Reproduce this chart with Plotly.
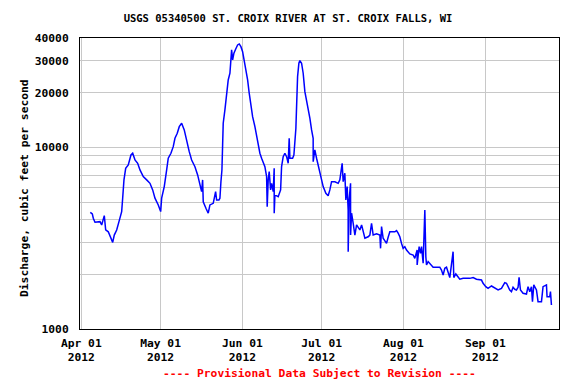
import pandas as pd
import plotly.graph_objects as go

# Time of each reading, in days after 2012-04-01 00:00
days_since_apr1 = [
    3.40, 4.16, 4.53, 5.18, 7.07, 7.71, 8.70, 9.23, 10.21, 10.86, 11.88, 12.48, 13.01, 13.39,
    14.26, 15.28, 15.66, 16.15, 16.80, 17.78, 18.80, 19.45, 20.32, 21.34, 22.21, 23.46, 24.75,
    26.00, 27.02, 27.89, 29.14, 30.05, 30.42, 31.41, 32.32, 32.92, 33.94, 34.81, 35.46, 36.33,
    37.09, 37.99, 38.98, 39.89, 40.87, 41.78, 43.03, 44.05, 44.92, 45.56, 45.94, 46.17, 47.19,
    48.06, 48.70, 49.95, 50.86, 51.24, 52.11, 52.49, 52.87, 53.25, 53.51, 53.74, 54.38, 55.03,
    55.63, 56.28, 56.65, 56.92, 57.30, 57.79, 58.43, 59.19, 59.80, 60.44, 61.08, 61.69, 62.33,
    62.98, 63.58, 64.22, 64.87, 65.74, 66.38, 66.99, 67.63, 68.27, 68.88, 69.52, 70.17, 70.39,
    70.77, 71.15, 71.68, 72.06, 72.67, 73.04, 73.05, 73.31, 74.56, 75.47, 75.84, 76.45, 77.09,
    77.74, 78.34, 78.72, 78.99, 80.01, 80.50, 80.88, 81.26, 81.52, 81.90, 82.39, 82.77, 83.41,
    84.02, 84.66, 85.31, 85.91, 86.55, 87.20, 87.80, 87.81, 88.43, 89.09, 89.69, 90.33, 90.98,
    91.59, 92.61, 93.48, 94.12, 94.77, 96.02, 97.27, 97.91, 98.78, 99.16, 99.80, 100.18, 100.67,
    101.05, 101.06, 101.43, 101.96, 101.97, 102.35, 102.96, 103.60, 104.24, 105.49, 106.14,
    106.74, 107.39, 108.62, 109.27, 109.91, 110.52, 111.81, 113.06, 113.32, 113.70, 114.30,
    115.59, 116.20, 116.84, 118.73, 119.37, 119.98, 120.62, 121.26, 121.87, 122.51, 123.16,
    124.41, 125.66, 126.30, 127.17, 127.18, 127.93, 128.46, 128.84, 129.45, 130.09, 130.47,
    130.73, 131.34, 131.98, 133.23, 135.76, 136.40, 137.01, 137.65, 138.30, 138.90, 139.54,
    140.79, 141.06, 141.82, 142.69, 143.33, 144.58, 147.12, 148.37, 149.65, 151.55, 152.15,
    153.17, 154.04, 155.33, 156.58, 157.83, 159.11, 159.72, 160.36, 161.01, 161.61, 162.25,
    162.90, 163.50, 164.15, 164.79, 165.40, 165.78, 166.31, 167.29, 168.58, 169.18, 169.83,
    170.47, 170.85, 171.34, 172.36, 172.97, 174.26, 174.86, 176.15, 176.38, 177.40, 177.67,
    178.04,
]

# Discharge, cubic feet per second
discharge_cfs = [
    4390, 4300, 4070, 3870, 3900, 3740, 4210, 3510, 3430, 3220, 3000, 3290, 3420, 3510,
    3900, 4430, 5250, 6620, 7670, 8000, 9080, 9280, 8520, 8170, 7510, 6900, 6620,
    6340, 5830, 5250, 4820, 4430, 5250, 6080, 7510, 8710, 9280, 10090, 11220, 11960,
    13000, 13570, 12470, 10750, 9470, 8520, 7830, 7050, 6210, 5700, 6620, 5020, 4620,
    4340, 4820, 4920, 5700, 5130, 5130, 5250, 6470, 7510, 10310, 13570, 16070, 19440,
    23500, 25590, 29050, 34390, 30290, 32980, 34690, 36640, 37100, 35850, 33650, 30290, 27270,
    23500, 19860, 17120, 14760, 13000, 11450, 10310, 9280, 8710, 8340, 7830, 6900, 4715,
    6620, 7350, 5830, 6340, 5700, 7670, 4340, 5470, 5350, 5830, 7830, 8890, 9280,
    8890, 8170, 11220, 8710, 8710, 9080, 10310, 12740, 16760, 24510, 29050, 30030, 29050,
    25590, 20260, 18240, 16070, 14470, 12470, 11220, 8340, 9680, 8710, 8000, 7350, 6620,
    6080, 5590, 5420, 5830, 6470, 6470, 6340, 6620, 8170, 6470, 7200, 5130, 6080,
    4520, 2665, 5130, 6340, 3290, 4340, 3820, 3290, 3740, 3510, 3740,
    3430, 3160, 3220, 3290, 3820, 3290, 3340, 3290, 2780, 3660, 3160,
    2960, 3200, 3430, 3430, 3480, 3370, 3220, 2960, 2780, 2840, 2720,
    2590, 2555, 2450, 2720, 2250, 2840, 2610, 2840, 2300, 4520, 2500,
    2250, 2350, 2300, 2190, 2190, 2110, 1980, 2160, 2190, 2070, 1920,
    2665, 1920, 2010, 1940, 1880, 1900, 1900, 1920, 1880, 1860, 1785,
    1710, 1675, 1725, 1675, 1640, 1675, 1750, 1800, 1785, 1710, 1640,
    1605, 1697, 1654, 1640, 1697, 1926, 1640, 1573, 1558, 1710, 1605,
    1710, 1414, 1750, 1640, 1414, 1414, 1710, 1750, 1506, 1506, 1605,
    1356,
]

month_ticks = ["2012-04-01", "2012-05-01", "2012-06-01", "2012-07-01", "2012-08-01", "2012-09-01"]
month_labels = ["Apr 01<br>2012", "May 01<br>2012", "Jun 01<br>2012",
                "Jul 01<br>2012", "Aug 01<br>2012", "Sep 01<br>2012"]
y_grid_vals = [1000, 2000, 3000, 4000, 5000, 6000, 7000, 8000, 9000,
               10000, 20000, 30000, 40000]
y_grid_text = ["1000", "", "", "", "", "", "", "", "",
               "10000", "20000", "30000", "40000"]

title_text = "USGS 05340500 ST. CROIX RIVER AT ST. CROIX FALLS, WI"
y_title = "Discharge, cubic feet per second"
footer_text = "---- Provisional Data Subject to Revision ----"

times = pd.Timestamp("2012-04-01") + pd.to_timedelta(days_since_apr1, unit="D")

FONT = "DejaVu Sans Mono"
W, H = 568, 376  # page body adds an 8px offset

fig = go.Figure()
fig.add_trace(go.Scatter(
    x=times, y=discharge_cfs, mode="lines",
    line=dict(color="#0000FF", width=1.5),
    showlegend=False, hoverinfo="skip",
))

fig.update_layout(
    width=W, height=H,
    margin=dict(l=72, r=17, t=30, b=55, autoexpand=False),
    paper_bgcolor="white", plot_bgcolor="white",
    title=dict(text="<b>" + title_text + "</b>", x=(288 - 8) / W, xref="container",
               xanchor="center",
               y=1 - 10 / H, yref="container", yanchor="middle",
               font=dict(family=FONT, size=10.5, color="black")),
    xaxis=dict(
        type="date",
        range=["2012-03-31 12:00", "2012-09-28 21:36"],
        tickvals=month_ticks,
        ticktext=["<b>" + t.replace("<br>", "</b><br><b>") + "</b>" for t in month_labels],
        tickfont=dict(family=FONT, size=11.3, color="black"),
        showgrid=True, gridcolor="#C8C8C8", gridwidth=1,
        showline=True, linecolor="black", linewidth=1, mirror=True,
        ticks="", ticklabelstandoff=3, zeroline=False,
    ),
    yaxis=dict(
        type="log",
        range=[3, 4.60206],
        tickvals=y_grid_vals, ticktext=["<b>" + t + "</b>" if t else "" for t in y_grid_text],
        tickfont=dict(family=FONT, size=11.3, color="black"),
        showgrid=True, gridcolor="#C8C8C8", gridwidth=1,
        showline=True, linecolor="black", linewidth=1, mirror=True,
        ticks="", ticklabelstandoff=8, zeroline=False,
    ),
    annotations=[
        dict(text="<b>" + y_title + "</b>", xref="paper", yref="paper",
             x=(25 - 80) / 479, y=(329 - 188) / 291, textangle=-90,
             showarrow=False, xanchor="center", yanchor="middle",
             font=dict(family=FONT, size=11.3, color="black")),
        dict(text="<b>" + footer_text + "</b>", xref="paper", yref="paper",
             x=0.5, y=(329 - 374) / 291, showarrow=False,
             xanchor="center", yanchor="middle",
             font=dict(family=FONT, size=11.3, color="#FF0000")),
    ],
)

fig.write_html("out.html")
